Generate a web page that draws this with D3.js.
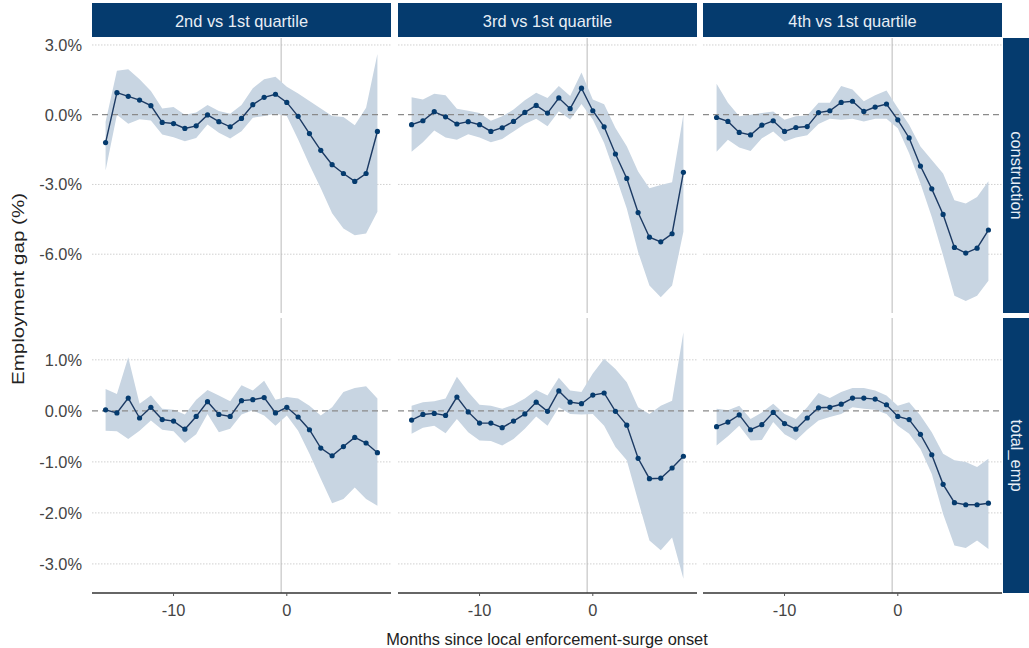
<!DOCTYPE html>
<html><head><meta charset="utf-8">
<script src="https://cdn.jsdelivr.net/npm/d3@7"></script>
<style>body{margin:0;background:#fff;} svg{display:block;font-family:"Liberation Sans",Arial,sans-serif;}</style>
</head><body><svg id="c" width="1029" height="648"></svg>
<script>
const months = d3.range(-16, 9);
const colLabels = ["2nd vs 1st quartile", "3rd vs 1st quartile", "4th vs 1st quartile"];
const rowLabels = ["construction", "total_emp"];
const yTicksTop = [3, 0, -3, -6];
const yTicksBottom = [1, 0, -1, -2, -3];
const xTicks = [-10, 0];

// construction
const c2_est = [-1.20,0.95,0.79,0.63,0.39,-0.33,-0.38,-0.59,-0.48,-0.01,-0.30,-0.52,-0.16,0.43,0.75,0.88,0.53,-0.07,-0.81,-1.53,-2.15,-2.53,-2.87,-2.53,-0.72];
const c2_hi  = [-0.30,1.89,1.96,1.53,1.02,0.27,0.33,0.00,0.09,0.42,0.16,0.04,0.42,1.14,1.53,1.63,1.20,0.91,0.59,0.27,-0.06,-0.10,-0.45,0.30,2.61];
const c2_lo  = [-2.40,0.00,-0.39,-0.20,-0.25,-0.85,-0.97,-1.14,-1.00,-0.42,-0.78,-1.02,-0.71,-0.13,-0.06,0.04,-0.06,-1.07,-2.15,-3.16,-4.24,-4.89,-5.18,-5.11,-4.17];
const c3_est = [-0.43,-0.26,0.13,-0.09,-0.40,-0.30,-0.43,-0.72,-0.56,-0.29,0.10,0.40,0.07,0.72,0.26,1.14,0.17,-0.52,-1.69,-2.74,-4.21,-5.27,-5.47,-5.12,-2.48];
const c3_hi  = [0.75,0.65,0.90,0.84,0.26,0.17,0.07,-0.26,-0.07,0.22,0.62,0.95,0.72,1.24,0.81,1.82,0.65,0.45,-0.57,-1.36,-2.44,-3.16,-3.02,-2.90,0.01];
const c3_lo  = [-1.59,-1.18,-0.68,-0.98,-1.08,-0.84,-0.98,-1.18,-1.04,-0.72,-0.40,-0.17,-0.50,0.15,-0.21,0.46,-0.21,-1.22,-2.60,-4.03,-5.91,-7.35,-7.85,-7.35,-5.04];
const c4_est = [-0.12,-0.29,-0.76,-0.87,-0.45,-0.26,-0.72,-0.55,-0.51,0.09,0.17,0.53,0.58,0.14,0.33,0.46,-0.22,-1.00,-2.21,-3.19,-4.29,-5.71,-5.95,-5.74,-4.96];
const c4_hi  = [1.33,0.51,-0.07,0.00,0.07,0.14,-0.22,-0.07,-0.03,0.51,0.51,1.23,1.08,0.58,0.84,1.04,0.29,-0.43,-1.37,-1.95,-2.53,-3.68,-3.82,-3.54,-2.86];
const c4_lo  = [-1.59,-1.08,-1.41,-1.56,-1.01,-0.72,-1.15,-0.98,-0.88,-0.40,-0.17,-0.22,-0.17,-0.29,-0.17,-0.17,-0.58,-1.66,-2.96,-4.40,-6.06,-7.79,-8.01,-7.79,-7.14];
// total_emp
const t2_est = [0.02,-0.04,0.25,-0.14,0.07,-0.17,-0.20,-0.36,-0.11,0.18,-0.07,-0.11,0.20,0.22,0.26,-0.04,0.07,-0.12,-0.37,-0.73,-0.88,-0.70,-0.52,-0.63,-0.82];
const t2_hi  = [0.43,0.33,1.05,0.14,0.30,0.04,0.02,-0.07,0.22,0.41,0.30,0.19,0.50,0.40,0.59,0.22,0.27,0.24,0.10,-0.09,0.07,0.37,0.45,0.48,0.24];
const t2_lo  = [-0.39,-0.40,-0.55,-0.39,-0.19,-0.37,-0.40,-0.63,-0.46,-0.06,-0.42,-0.35,-0.07,0.01,-0.09,-0.29,-0.09,-0.39,-0.84,-1.33,-1.81,-1.73,-1.50,-1.73,-1.86];
const t3_est = [-0.18,-0.07,-0.05,-0.09,0.27,-0.02,-0.24,-0.24,-0.33,-0.20,-0.06,0.17,-0.01,0.39,0.17,0.14,0.31,0.35,-0.01,-0.28,-0.93,-1.33,-1.32,-1.12,-0.89];
const t3_hi  = [0.10,0.17,0.19,0.24,0.67,0.37,0.12,0.10,0.04,0.12,0.24,0.41,0.30,0.65,0.40,0.37,0.73,1.02,0.82,0.56,0.07,-0.06,0.10,0.20,1.54];
const t3_lo  = [-0.45,-0.33,-0.29,-0.44,-0.16,-0.42,-0.58,-0.59,-0.68,-0.55,-0.35,-0.11,-0.29,0.07,-0.06,-0.07,-0.06,-0.29,-0.71,-0.97,-1.76,-2.54,-2.73,-2.48,-3.29];
const t4_est = [-0.31,-0.22,-0.08,-0.37,-0.27,-0.03,-0.25,-0.36,-0.14,0.06,0.07,0.13,0.25,0.25,0.23,0.12,-0.11,-0.17,-0.46,-0.86,-1.44,-1.80,-1.84,-1.84,-1.81];
const t4_hi  = [0.04,0.01,0.10,-0.16,-0.03,0.14,-0.06,-0.16,0.07,0.35,0.25,0.37,0.45,0.45,0.40,0.30,0.10,0.17,-0.09,-0.42,-0.84,-0.97,-1.00,-1.10,-0.94];
const t4_lo  = [-0.68,-0.50,-0.29,-0.58,-0.57,-0.22,-0.46,-0.58,-0.37,-0.19,-0.12,-0.06,0.07,0.04,0.02,-0.06,-0.29,-0.45,-0.75,-1.24,-2.02,-2.64,-2.69,-2.54,-2.71];

const panels = [
  [{est:c2_est,hi:c2_hi,lo:c2_lo},{est:c3_est,hi:c3_hi,lo:c3_lo},{est:c4_est,hi:c4_hi,lo:c4_lo}],
  [{est:t2_est,hi:t2_hi,lo:t2_lo},{est:t3_est,hi:t3_hi,lo:t3_lo},{est:t4_est,hi:t4_hi,lo:t4_lo}]
];

const navy = "#053b6e";
const lineCol = "#1c3a63";
const ribbonCol = "#c8d5e2";
const colX = [92, 398, 703];
const panelW = 299;
const rowY = [38, 318];
const panelH = 275;
const yDomains = [[-8.53, 3.3], [-3.57, 1.82]];
const yTicks = [yTicksTop, yTicksBottom];
const fs = 16.4;

const svg = d3.select("#c");
const x = d3.scaleLinear().domain([-17.2, 9.2]).range([0, panelW]);

// top strips
colLabels.forEach((lab, j) => {
  svg.append("rect").attr("x", colX[j]).attr("y", 3).attr("width", panelW).attr("height", 34).attr("fill", navy);
  svg.append("text").attr("x", colX[j] + panelW/2).attr("y", 21).attr("text-anchor","middle")
    .attr("dominant-baseline","central").attr("fill","#e8eef5").attr("font-size",fs).text(lab);
});
// right strips
rowLabels.forEach((lab, i) => {
  svg.append("rect").attr("x", 1003).attr("y", rowY[i]).attr("width", 30).attr("height", panelH).attr("fill", navy);
  svg.append("text").attr("transform", `translate(1017,${rowY[i] + panelH/2}) rotate(90)`)
    .attr("text-anchor","middle").attr("dominant-baseline","central").attr("fill","#e8eef5").attr("font-size",fs).text(lab);
});

for (let i = 0; i < 2; i++) {
  const y = d3.scaleLinear().domain(yDomains[i]).range([panelH, 0]);
  for (let j = 0; j < 3; j++) {
    const g = svg.append("g").attr("transform", `translate(${colX[j]},${rowY[i]})`);
    const d = panels[i][j];
    const pts = months.map((m, k) => ({m, e: d.est[k], h: d.hi[k], l: d.lo[k]}));
    // grid
    g.selectAll(".grid").data(yTicks[i].filter(t => t !== 0)).join("line")
      .attr("x1", 0).attr("x2", panelW).attr("y1", t => y(t)).attr("y2", t => y(t))
      .attr("stroke", "#d0d0d0").attr("stroke-width", 1).attr("stroke-dasharray", "1.5,1.5");
    // vertical line
    g.append("line").attr("x1", x(-0.5)).attr("x2", x(-0.5)).attr("y1", 0).attr("y2", panelH)
      .attr("stroke", "#b9b9b9").attr("stroke-width", 1);
    // ribbon
    g.append("path").datum(pts)
      .attr("d", d3.area().x(p => x(p.m)).y0(p => y(p.l)).y1(p => y(p.h)))
      .attr("fill", ribbonCol);
    // zero line
    g.append("line").attr("x1", 0).attr("x2", panelW).attr("y1", y(0)).attr("y2", y(0))
      .attr("stroke", "#8a8a8a").attr("stroke-width", 1.2).attr("stroke-dasharray", "6,4");
    // line
    g.append("path").datum(pts)
      .attr("d", d3.line().x(p => x(p.m)).y(p => y(p.e)))
      .attr("fill", "none").attr("stroke", lineCol).attr("stroke-width", 1.4);
    g.selectAll(".pt").data(pts).join("circle")
      .attr("cx", p => x(p.m)).attr("cy", p => y(p.e)).attr("r", 2.6).attr("fill", navy);
    // y axis labels
    if (j === 0) {
      g.selectAll(".yl").data(yTicks[i]).join("text")
        .attr("x", -10).attr("y", t => y(t)).attr("text-anchor", "end").attr("dominant-baseline", "central")
        .attr("font-size", fs).attr("fill", "#444").text(t => d3.format(".1f")(t).replace("−","-") + "%");
    }
    // x axis
    if (i === 1) {
      g.append("line").attr("x1", 0).attr("x2", panelW).attr("y1", panelH).attr("y2", panelH)
        .attr("stroke", "#333").attr("stroke-width", 1.6);
      g.selectAll(".xt").data(xTicks).join("line")
        .attr("x1", t => x(t)).attr("x2", t => x(t)).attr("y1", panelH).attr("y2", panelH + 3)
        .attr("stroke", "#555").attr("stroke-width", 1);
      g.selectAll(".xl").data(xTicks).join("text")
        .attr("x", t => x(t)).attr("y", panelH + 17).attr("text-anchor","middle").attr("dominant-baseline","central")
        .attr("font-size", fs).attr("fill", "#444").text(t => String(t));
    }
  }
}
svg.append("text").attr("x", 547).attr("y", 639).attr("text-anchor","middle").attr("dominant-baseline","central")
  .attr("font-size", fs).attr("fill","#222").text("Months since local enforcement-surge onset");
svg.append("text").attr("transform","translate(18,289) rotate(-90)").attr("text-anchor","middle")
  .attr("dominant-baseline","central").attr("font-size", fs).attr("fill","#222")
  .attr("textLength", 192).attr("lengthAdjust", "spacingAndGlyphs").text("Employment gap (%)");
</script></body></html>
